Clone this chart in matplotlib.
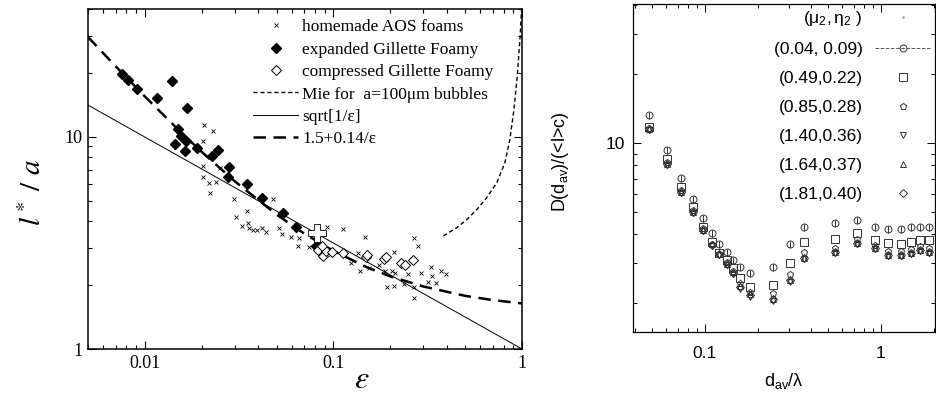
import matplotlib
matplotlib.use("Agg")
import matplotlib.pyplot as plt
from matplotlib import ticker
from matplotlib.lines import Line2D
from matplotlib.font_manager import FontProperties

plt.rcParams['mathtext.fontset'] = 'custom'
plt.rcParams['mathtext.rm'] = 'Liberation Sans'
plt.rcParams['mathtext.it'] = 'Liberation Sans:italic'
plt.rcParams['mathtext.sf'] = 'Liberation Sans'
plt.rcParams['mathtext.bf'] = 'Liberation Sans:bold'

# ---------------- left panel data ----------------
aos_eps = [0.0207, 0.0231, 0.0204, 0.0204, 0.0249, 0.0204, 0.0220, 0.0223, 0.0240, 0.0296,
           0.0303, 0.0347, 0.0326, 0.0351, 0.0356, 0.0373, 0.0392, 0.0417, 0.0438, 0.0478,
           0.0514, 0.0533, 0.0596, 0.0658, 0.0650, 0.0744, 0.0929, 0.1131, 0.1465, 0.0976,
           0.1343, 0.1233, 0.1377, 0.1538, 0.174, 0.1874, 0.204, 0.212, 0.209, 0.192,
           0.209, 0.237, 0.249, 0.268, 0.281, 0.292, 0.330, 0.334, 0.373, 0.397,
           0.351, 0.318, 0.268, 0.268]
aos_l = [11.4, 10.7, 9.58, 7.30, 7.14, 6.48, 6.07, 5.44, 6.13, 5.10,
         4.19, 4.48, 3.80, 3.93, 3.72, 3.64, 3.64, 3.72, 3.56, 5.10,
         3.72, 3.49, 3.38, 3.34, 3.06, 3.03, 3.76, 3.68, 3.38, 2.81,
         2.84, 2.54, 2.33, 2.41, 2.49, 2.33, 2.33, 2.28, 2.87, 1.96,
         1.98, 2.03, 2.26, 3.34, 3.06, 2.28, 2.44, 2.21, 2.33, 2.26,
         2.05, 2.07, 1.74, 1.96]

exp_eps = [0.00754, 0.00811, 0.00906, 0.0116, 0.0139, 0.0168, 0.0150, 0.0156, 0.0166, 0.01446,
           0.01637, 0.0190, 0.0243, 0.0228, 0.0281, 0.0275, 0.0347, 0.0417, 0.0541, 0.0634, 0.0811]
exp_l = [19.8, 18.6, 16.8, 15.3, 18.4, 13.6, 10.9, 10.1, 9.58, 9.27,
         8.59, 8.87, 8.68, 8.13, 7.22, 6.48, 6.0, 5.16, 4.38, 3.76, 3.06]

comp_eps = [0.0831, 0.0884, 0.0918, 0.0873, 0.0988, 0.1131, 0.148, 0.150, 0.185, 0.190,
            0.228, 0.240, 0.264]
comp_l = [2.93, 2.75, 2.90, 3.06, 2.87, 2.84, 2.72, 2.78, 2.66, 2.72, 2.54, 2.49, 2.63]

cross_eps = [0.082]
cross_l = [3.53]

mie_eps = [0.383, 0.449, 0.508, 0.575, 0.650, 0.735, 0.811, 0.862, 0.906, 0.945, 0.975, 0.995]
mie_l = [3.41, 3.72, 4.06, 4.53, 5.16, 6.07, 7.54, 9.68, 13.4, 19.6, 28.7, 40.0]

sqrt_eps = [0.005, 1.0]
sqrt_l = [14.1, 1.0]

fit_eps = [0.005, 0.007, 0.01, 0.015, 0.02, 0.03, 0.05, 0.07, 0.1, 0.15, 0.2, 0.3, 0.5, 0.7, 1.0]
fit_l = [29.5, 21.5, 15.5, 10.83, 8.5, 6.17, 4.3, 3.5, 2.9, 2.43, 2.2, 1.97, 1.78, 1.70, 1.64]

left_labels = ['homemade AOS foams', 'expanded Gillette Foamy', 'compressed Gillette Foamy',
               'Mie for  a=100μm bubbles', 'sqrt[1/ε]', '1.5+0.14/ε']

# ---------------- right panel data ----------------
dav = [0.048, 0.061, 0.073, 0.0855, 0.097, 0.110, 0.120, 0.133, 0.144, 0.158, 0.180,
       0.243, 0.304, 0.365, 0.548, 0.731, 0.925, 1.10, 1.30, 1.48, 1.67, 1.87]
d_circ = [13.25, 9.32, 7.03, 5.69, 4.71, 4.05, 3.62, 3.34, 3.08, 2.87, 2.71,
          2.87, 3.62, 4.30, 4.47, 4.61, 4.30, 4.21, 4.21, 4.30, 4.30, 4.30]
d_circ_err = [0.45, 0.32, 0.25, 0.20, 0.17, 0.14, 0.13, 0.12, 0.11, 0.10, 0.10,
              0.10, 0.13, 0.15, 0.16, 0.16, 0.15, 0.15, 0.15, 0.15, 0.15, 0.15]
d_sq = [11.75, 8.51, 6.43, 5.26, 4.30, 3.70, 3.31, 3.08, 2.85, 2.57, 2.35,
        2.40, 2.99, 3.70, 3.81, 4.05, 3.77, 3.66, 3.62, 3.70, 3.77, 3.77]
d_pent = [11.6, 8.3, 6.25, 5.10, 4.25, 3.65, 3.30, 3.02, 2.78, 2.45, 2.25,
          2.22, 2.70, 3.35, 3.50, 3.80, 3.60, 3.40, 3.40, 3.45, 3.55, 3.50]
d_dtri = [11.4, 8.0, 6.05, 4.95, 4.12, 3.55, 3.24, 2.93, 2.68, 2.32, 2.14,
          2.05, 2.49, 3.12, 3.31, 3.62, 3.45, 3.21, 3.21, 3.28, 3.38, 3.31]
d_utri = [11.55, 8.15, 6.15, 5.03, 4.20, 3.62, 3.30, 2.98, 2.73, 2.37, 2.19,
          2.10, 2.54, 3.17, 3.36, 3.68, 3.50, 3.26, 3.26, 3.33, 3.43, 3.36]
d_diam = [11.51, 8.10, 6.11, 5.00, 4.17, 3.59, 3.28, 2.96, 2.71, 2.35, 2.17,
          2.08, 2.52, 3.15, 3.34, 3.66, 3.48, 3.24, 3.24, 3.31, 3.41, 3.34]
right_labels = [r'$(\mathrm{μ}_2,\mathrm{η}_2\ )$', '(0.04, 0.09)', '(0.49,0.22)', '(0.85,0.28)',
                '(1.40,0.36)', '(1.64,0.37)', '(1.81,0.40)']

W, H = 937, 396
fig = plt.figure(figsize=(W / 100, H / 100), dpi=100)

# ================= left panel =================
axL = fig.add_axes([88 / W, 1 - 349 / H, 434 / W, 340 / H])
axL.set_xscale('log')
axL.set_yscale('log')
k = 'black'
axL.plot(aos_eps, aos_l, ls='none', marker='x', ms=2.6, mew=0.6, color=k, label=left_labels[0], zorder=3)
axL.plot(exp_eps, exp_l, ls='none', marker='D', ms=5.3, color=k, label=left_labels[1], zorder=4)
axL.plot(comp_eps, comp_l, ls='none', marker='D', ms=5.3, mfc='white', mec=k, mew=0.7,
         label=left_labels[2], zorder=5)
axL.plot(mie_eps, mie_l, ls=(0, (3, 2)), lw=1.0, color=k, label=left_labels[3], zorder=2)
axL.plot(sqrt_eps, sqrt_l, ls='-', lw=0.7, color=k, label=left_labels[4], zorder=2)
axL.plot(fit_eps, fit_l, ls=(0, (5, 3)), lw=1.8, color=k, label=left_labels[5], zorder=2)
axL.plot(cross_eps, cross_l, ls='none', marker='P', ms=13, mfc='white', mec=k, mew=0.6, zorder=6)

axL.set_xlim(0.005, 1.0)
axL.set_ylim(1.0, 40.0)
fmt = ticker.FuncFormatter(lambda v, p: f'{v:g}')
axL.xaxis.set_major_formatter(fmt)
axL.yaxis.set_major_formatter(fmt)
axL.xaxis.set_minor_formatter(ticker.NullFormatter())
axL.yaxis.set_minor_formatter(ticker.NullFormatter())
axL.tick_params(which='both', direction='in', top=True, right=True, width=0.8, pad=4)
axL.tick_params(which='major', length=6)
axL.tick_params(which='minor', length=3)
for lab in axL.get_xticklabels() + axL.get_yticklabels():
    lab.set_fontfamily('Liberation Serif')
    lab.set_fontsize(13)
for s in axL.spines.values():
    s.set_linewidth(1.1)

axL.set_ylabel(r'$l^*\ /\ a$', fontsize=21, math_fontfamily='stix')
axL.yaxis.set_label_coords(-0.095, 0.46)
axL.set_xlabel(r'$\varepsilon$', fontsize=23, math_fontfamily='stix')
axL.xaxis.set_label_coords((362 - 88) / 434, -0.045)

legL = axL.legend(loc='upper left', bbox_to_anchor=((253 - 88) / 434, 0.97), frameon=False,
                  borderpad=0, borderaxespad=0, handlelength=2.6, handletextpad=0.25,
                  labelspacing=0.36, prop=FontProperties(family='Liberation Serif', size=12.5))

# ================= right panel =================
axR = fig.add_axes([633 / W, 1 - 332 / H, 302 / W, 328 / H])
axR.set_xscale('log')
axR.set_yscale('log')
g = '#333333'
axR.errorbar(dav, d_circ, yerr=d_circ_err, fmt='o', ms=5, mfc='none', mec=g, mew=0.7,
             ecolor=g, elinewidth=0.7, capsize=0, zorder=3)
axR.plot(dav, d_sq, ls='none', marker='s', ms=5.5, mfc='none', mec=g, mew=0.7, zorder=3)
axR.plot(dav, d_pent, ls='none', marker='p', ms=4.8, mfc='none', mec=g, mew=0.7, zorder=3)
axR.plot(dav, d_dtri, ls='none', marker='v', ms=4.8, mfc='none', mec=g, mew=0.7, zorder=3)
axR.plot(dav, d_utri, ls='none', marker='^', ms=4.8, mfc='none', mec=g, mew=0.7, zorder=3)
axR.plot(dav, d_diam, ls='none', marker='D', ms=3.8, mfc='none', mec=g, mew=0.7, zorder=3)

axR.set_xlim(0.039, 2.03)
axR.set_ylim(1.5, 40.5)
axR.xaxis.set_major_formatter(fmt)
axR.yaxis.set_major_formatter(fmt)
axR.xaxis.set_minor_formatter(ticker.NullFormatter())
axR.yaxis.set_minor_formatter(ticker.NullFormatter())
axR.tick_params(which='both', direction='in', top=True, right=True, width=0.7)
axR.tick_params(which='major', length=6)
axR.tick_params(which='minor', length=3)
axR.tick_params(axis='x', pad=10)
axR.tick_params(axis='y', pad=6)
for lab in axR.get_xticklabels() + axR.get_yticklabels():
    lab.set_fontfamily('Liberation Sans')
    lab.set_fontsize(12.5)
for s in axR.spines.values():
    s.set_linewidth(0.9)

axR.set_ylabel(r'D(d$_{\mathrm{av}}$)/(<l>c)', fontsize=13, fontfamily='Liberation Sans')
axR.yaxis.set_label_coords(-0.205, 0.52)
axR.set_xlabel(r'd$_{\mathrm{av}}$/λ', fontsize=13, fontfamily='Liberation Sans')
axR.xaxis.set_label_coords(0.5, -0.118)

handles = [
    Line2D([], [], ls='none', marker='.', ms=2, color='#aaaaaa'),
    Line2D([], [], ls='--', lw=0.7, color='#555555', marker='o', ms=5, mfc='none', mec=g, mew=0.7),
    Line2D([], [], ls='none', marker='s', ms=5.5, mfc='none', mec=g, mew=0.7),
    Line2D([], [], ls='none', marker='p', ms=4.8, mfc='none', mec=g, mew=0.7),
    Line2D([], [], ls='none', marker='v', ms=4.8, mfc='none', mec=g, mew=0.7),
    Line2D([], [], ls='none', marker='^', ms=4.8, mfc='none', mec=g, mew=0.7),
    Line2D([], [], ls='none', marker='D', ms=3.8, mfc='none', mec=g, mew=0.7),
]
legR = axR.legend(handles, right_labels, loc='upper right', bbox_to_anchor=(0.985, 0.985),
                  markerfirst=False, frameon=False, borderpad=0, borderaxespad=0,
                  handlelength=3.2, handletextpad=0.7, labelspacing=0.8,
                  prop=FontProperties(family='Liberation Sans', size=12.5))

fig.savefig('out.png', dpi=100)
